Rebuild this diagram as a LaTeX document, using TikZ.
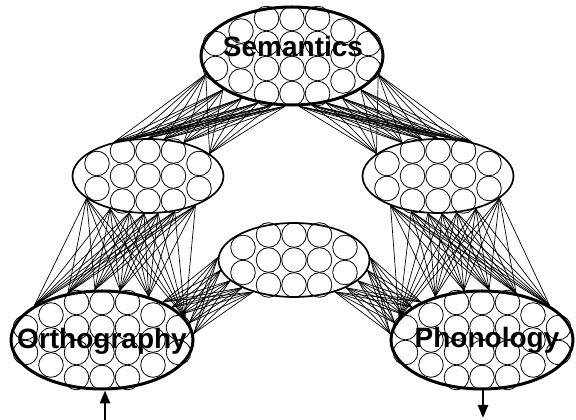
\documentclass[tikz,border=0pt]{standalone}
\usepackage{fontspec}
\setmainfont{Liberation Sans}
\usetikzlibrary{arrows.meta, positioning, calc, shapes.geometric}

\begin{document}
\begin{tikzpicture}[x=1pt, y=1pt,
    every node/.style={font=\bfseries\fontsize{28}{30}\selectfont},
    pool/.style={ellipse, draw, line width=3pt, minimum width=182pt, minimum height=98pt, inner sep=0pt},
    hidden/.style={ellipse, draw, line width=1.7pt, minimum width=151pt, minimum height=74pt, inner sep=0pt},
    unit/.style={line width=0.8pt},
    link/.style={line width=0.7pt},
    flow/.style={line width=2.6pt, -{Triangle[length=13pt, width=10pt]}},
    bigunits/.pic={
        \foreach \i/\k in {-3/2,-2/3,-1/4,0/4,1/4,2/3,3/2}
            \foreach \j in {1,...,\k}
                \draw[unit] ({25.5*\i},{25*(\j-(\k+1)/2)}) circle (12.3pt);
    },
    smallunits/.pic={
        \foreach \i/\k in {-2/2,-1/3,0/3,1/3,2/2}
            \foreach \j in {1,...,\k}
                \draw[unit] ({25.5*\i},{25*(\j-(\k+1)/2)}) circle (12.3pt);
    }]

    \useasboundingbox (0,0) rectangle (576,420);

    % Centres of the pools
    \coordinate (semc) at (292,364);
    \coordinate (hidLc) at (148,244);
    \coordinate (hidRc) at (438,244);
    \coordinate (hidMc) at (294,160);
    \coordinate (orthc) at (102,80);
    \coordinate (phonc) at (482,80);

    % Units
    \pic at (semc) {bigunits};
    \pic at (orthc) {bigunits};
    \pic at (phonc) {bigunits};
    \pic at (hidLc) {smallunits};
    \pic at (hidRc) {smallunits};
    \pic at (hidMc) {smallunits};

    % Pools
    \node[pool] (sem) at (semc) {};
    \node[pool] (orth) at (orthc) {};
    \node[pool] (phon) at (phonc) {};
    \node[hidden] (hidL) at (hidLc) {};
    \node[hidden] (hidR) at (hidRc) {};
    \node[hidden] (hidM) at (hidMc) {};

    % Semantics <-> hidden layers
    \foreach \a in {192,206,220,234,248,262}
        \foreach \b in {20,43,66,89,112,135}
            \draw[link] (sem.\a) -- (hidL.\b);
    \foreach \a in {348,334,320,306,292,278}
        \foreach \b in {160,137,114,91,68,45}
            \draw[link] (sem.\a) -- (hidR.\b);

    % Hidden layers <-> Orthography / Phonology
    \foreach \a in {200,221,243,264,285,307,328}
        \foreach \b in {15,43,70,98,126,153}
            \draw[link] (hidL.\a) -- (orth.\b);
    \foreach \a in {340,319,297,276,255,233,212}
        \foreach \b in {165,137,110,82,54,27}
            \draw[link] (hidR.\a) -- (phon.\b);

    % Orthography <-> middle hidden <-> Phonology
    \foreach \a in {4,11,18,25,32}
        \foreach \b in {178,188,198,208,218}
            \draw[link] (orth.\a) -- (hidM.\b);
    \foreach \a in {176,169,162,155,148}
        \foreach \b in {2,352,342,332,322}
            \draw[link] (phon.\a) -- (hidM.\b);

    % Labels
    \node[anchor=base] (semlabel) at (293,363) {Semantics};
    \node[anchor=base] (orthlabel) at (102,71) {Orthography};
    \node[anchor=base] (phonlabel) at (487,72) {Phonology};

    % Input and output
    \coordinate (orthin) at (105,0);
    \coordinate (phonout) at (483,2);
    \draw[flow] (orthin) -- (orthin |- orth.south);
    \draw[flow] (phonout |- phon.south) -- (phonout);

\end{tikzpicture}
\end{document}
